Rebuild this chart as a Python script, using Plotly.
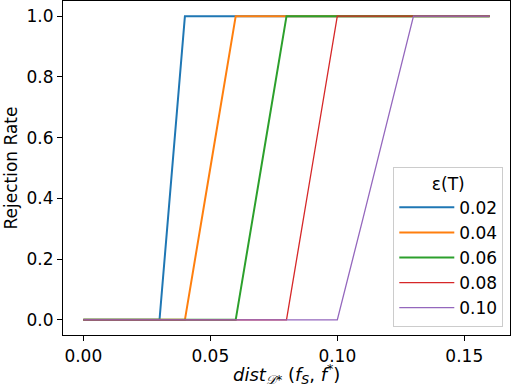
import plotly.graph_objects as go

# distance grid and rejection rates
dist = [0.00, 0.01, 0.02, 0.03, 0.04, 0.05, 0.06, 0.07, 0.08,
        0.09, 0.10, 0.11, 0.12, 0.13, 0.14, 0.15, 0.16]
eps_labels = ["0.02", "0.04", "0.06", "0.08", "0.10"]
rate_002 = [0, 0, 0, 0, 1, 1, 1, 1, 1, 1, 1, 1, 1, 1, 1, 1, 1]
rate_004 = [0, 0, 0, 0, 0, 0.5, 1, 1, 1, 1, 1, 1, 1, 1, 1, 1, 1]
rate_006 = [0, 0, 0, 0, 0, 0, 0, 0.5, 1, 1, 1, 1, 1, 1, 1, 1, 1]
rate_008 = [0, 0, 0, 0, 0, 0, 0, 0, 0, 0.5, 1, 1, 1, 1, 1, 1, 1]
rate_010 = [0, 0, 0, 0, 0, 0, 0, 0, 0, 0, 0, 0.33, 0.67, 1, 1, 1, 1]
rates = [rate_002, rate_004, rate_006, rate_008, rate_010]

colors = ["#1f77b4", "#ff7f0e", "#2ca02c", "#d62728", "#9467bd"]
widths = [2, 2, 2, 1.3, 1.3]

fig = go.Figure()
for label, ys, color, w in zip(eps_labels, rates, colors, widths):
    fig.add_trace(go.Scatter(x=dist, y=ys, mode="lines", name=label,
                             line=dict(color=color, width=w)))

axis_common = dict(
    showline=True, linecolor="black", linewidth=1.2, mirror=True,
    ticks="outside", ticklen=5, tickcolor="black", showgrid=False,
    zeroline=False, automargin=False,
    tickfont=dict(size=17, color="black"),
)

fig.update_layout(
    width=514, height=390,
    paper_bgcolor="white", plot_bgcolor="white",
    font=dict(family="DejaVu Sans", color="black"),
    margin=dict(l=63, r=4, t=1, b=55),
    showlegend=True,
    legend=dict(
        title=dict(text="\u03b5(T)", side="top center", font=dict(size=17)),
        x=0.985, y=0.025, xanchor="right", yanchor="bottom",
        bgcolor="rgba(255,255,255,0.8)", bordercolor="#cccccc", borderwidth=1,
        font=dict(size=17), itemwidth=55, tracegroupgap=0,
    ),
)
fig.update_xaxes(
    range=[-0.008, 0.168], tickvals=[0, 0.05, 0.10, 0.15],
    ticktext=["0.00", "0.05", "0.10", "0.15"],
    **axis_common,
)
fig.update_yaxes(
    range=[-0.05, 1.05], tickvals=[0, 0.2, 0.4, 0.6, 0.8, 1.0],
    ticktext=["0.0", "0.2", "0.4", "0.6", "0.8", "1.0"],
    title=dict(text="Rejection Rate", font=dict(size=17), standoff=4),
    **axis_common,
)

# x title as an annotation so it sits clear of the tick labels
fig.add_annotation(
    text="<i>dist</i><sub><i>\U0001d49f</i>*</sub> (<i>f</i><sub><i>S</i></sub>, <i>f</i><sup>*</sup>)",
    xref="paper", yref="paper", x=0.5, y=-0.162,
    xanchor="center", yanchor="bottom", showarrow=False,
    font=dict(size=18, color="black"),
)

# drop the page's default body margin so the figure sits at the window corner
fig.write_html("out.html", config={"displayModeBar": False},
               post_script="document.body.style.margin='0';")
